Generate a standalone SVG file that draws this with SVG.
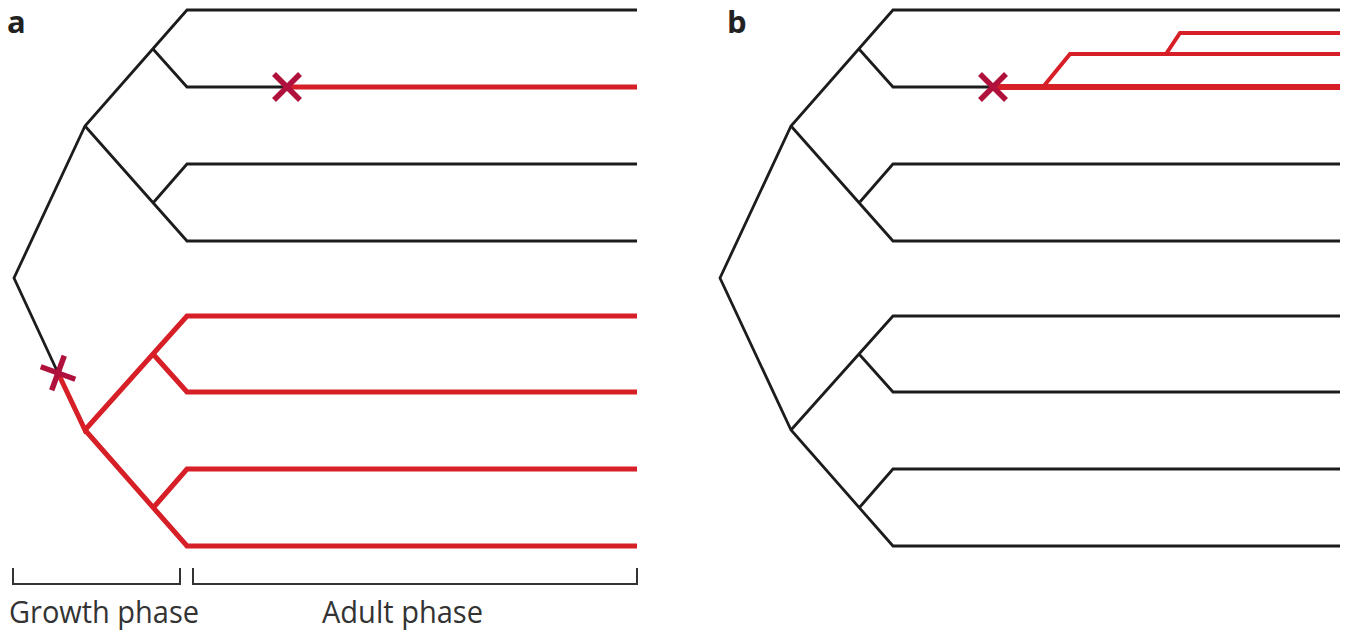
<svg xmlns="http://www.w3.org/2000/svg" width="1353" height="635" viewBox="0 0 1353 635">
<defs>
<style>
.k{fill:none;stroke:#1c1c1c;stroke-width:2.8;stroke-linejoin:miter}
.r{fill:none;stroke:#d61f26;stroke-width:5;stroke-linejoin:miter}
.rt{fill:none;stroke:#d61f26;stroke-width:4;stroke-linejoin:miter}
.br{fill:none;stroke:#333;stroke-width:2}
.lab{font-family:"Open Sans","Noto Sans",sans-serif;font-size:31px;fill:#333}
.pl{font-family:"Open Sans","Noto Sans",sans-serif;font-size:31px;font-weight:bold;fill:#222}
.x{stroke:#b0103c;stroke-width:5.5;fill:none}
</style>
<g id="xmark"><line class="x" x1="-13" y1="-13" x2="13" y2="13"/><line class="x" x1="-13" y1="13" x2="13" y2="-13"/></g>
</defs>
<rect width="1353" height="635" fill="#fff"/>
<g id="connectors">
<path class="k" d="M637,10 H187 L85,126 L14,278 L58,373"/>
<path class="k" d="M153,49 L187,87 H287"/>
<path class="r" d="M287,87 H637"/>
<path class="k" d="M85,126 L187,241 H637"/>
<path class="k" d="M153,203 L187,164 H637"/>
<path class="r" d="M58,373 L85,430 L187,316 H637"/>
<path class="r" d="M153,354 L187,392 H637"/>
<path class="r" d="M85,430 L187,546 H637"/>
<path class="r" d="M153,508 L187,469 H637"/>
<path class="k" d="M1340,10 H893 L791,126 L720,278 L791,430 L893,546 H1340"/>
<path class="k" d="M859,49 L893,87 H993"/>
<path class="k" d="M791,126 L893,241 H1340"/>
<path class="k" d="M859,203 L893,164 H1340"/>
<path class="k" d="M791,430 L893,316 H1340"/>
<path class="k" d="M859,354 L893,392 H1340"/>
<path class="k" d="M859,508 L893,469 H1340"/>
<path class="r" style="stroke-width:6" d="M993,87 H1340"/>
<path class="rt" d="M1043,87 L1070,54 H1340"/>
<path class="rt" d="M1166,54 L1180,33 H1340"/>
</g>
<g id="mutation-a1"><use href="#xmark" transform="translate(287,87)"/></g>
<g id="mutation-a2"><use href="#xmark" transform="translate(58,373) rotate(-25)"/></g>
<g id="mutation-b"><use href="#xmark" transform="translate(993,87)"/></g>
<g id="labels">
<text class="pl" x="7" y="33">a</text>
<text class="pl" x="727" y="33">b</text>
</g>
<g id="growth-phase">
<path class="br" d="M13,568 V584 H180 V568"/>
<text class="lab" x="9" y="623" textLength="190" lengthAdjust="spacingAndGlyphs">Growth phase</text>
</g>
<g id="adult-phase">
<path class="br" d="M193,568 V584 H637 V568"/>
<text class="lab" x="322" y="623" textLength="161" lengthAdjust="spacingAndGlyphs">Adult phase</text>
</g>
</svg>
